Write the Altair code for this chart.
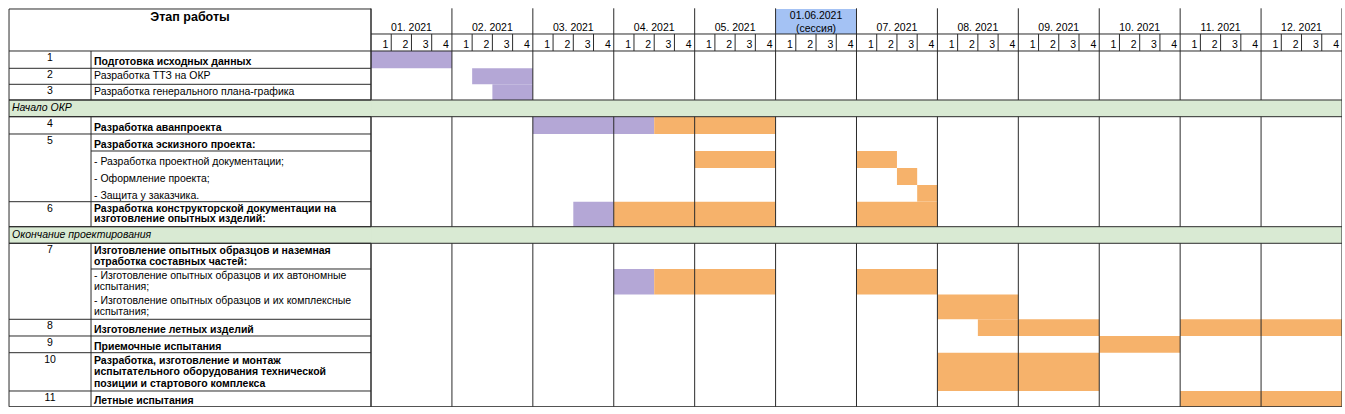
import altair as alt
import pandas as pd

# ---------------- data ----------------
MONTHS = ["01. 2021", "02. 2021", "03. 2021", "04. 2021", "05. 2021", "01.06.2021",
          "07. 2021", "08. 2021", "09. 2021", "10. 2021", "11. 2021", "12. 2021"]
SESSION_MONTH = 5
SESSION_NOTE = "(сессия)"
WEEK_LABELS = ["1", "2", "3", "4"]
HEADER_TITLE = "Этап работы"

ROW_KEYS = ["r1", "r2", "r3", "g1", "r4", "r5", "r5a", "r5b", "r5c", "r6", "g2",
            "r7", "r7a", "r7b", "r8", "r9", "r10", "r11"]
ROW_NUMBERS = ["1", "2", "3", "", "4", "5", "", "", "", "6", "", "7", "", "", "8", "9", "10", "11"]
ROW_KIND = ["main", "plain", "plain", "band", "main", "main", "sub", "sub", "sub", "main", "band",
            "main", "sub", "sub", "main", "main", "main", "main"]
ROW_TEXT = [
    ["Подготовка исходных данных"],
    ["Разработка ТТЗ на ОКР"],
    ["Разработка генерального плана-графика"],
    ["Начало ОКР"],
    ["Разработка аванпроекта"],
    ["Разработка эскизного проекта:"],
    ["- Разработка проектной документации;"],
    ["- Оформление проекта;"],
    ["- Защита у заказчика."],
    ["Разработка конструкторской документации на", "изготовление опытных изделий:"],
    ["Окончание проектирования"],
    ["Изготовление опытных образцов и наземная", "отработка составных частей:"],
    ["- Изготовление опытных образцов и их автономные", "испытания;"],
    ["- Изготовление опытных образцов и их комплексные", "испытания;"],
    ["Изготовление летных изделий"],
    ["Приемочные испытания"],
    ["Разработка, изготовление и монтаж", "испытательного оборудования технической",
     "позиции и стартового комплекса"],
    ["Летные испытания"],
]

# bars: row, start week, end week (0-based week index over the year), phase
BAR_ROW = ["r1", "r2", "r3", "r4", "r4", "r5a", "r5a", "r5b", "r5c", "r6", "r6", "r6",
           "r7a", "r7a", "r7a", "r7b", "r8", "r8", "r9", "r10", "r11"]
BAR_START = [0, 5, 6, 8, 14, 16, 24, 26, 27, 10, 12, 24, 12, 14, 24, 28, 30, 40, 36, 28, 40]
BAR_END = [4, 8, 8, 14, 20, 20, 26, 27, 28, 12, 20, 28, 14, 20, 28, 32, 36, 48, 40, 36, 48]
BAR_PHASE = ["done", "done", "done", "done", "plan", "plan", "plan", "plan", "plan", "done", "plan",
             "plan", "done", "plan", "plan", "plan", "plan", "plan", "plan", "plan", "plan"]

# ---------------- layout / style ----------------
FONT = "Liberation Sans"
PURPLE = "#b4a7d6"
ORANGE = "#f6b26b"
GREEN = "#d9ead3"
BLUE = "#a4c2f4"
LINE = "#2a2a2a"
FS = 10.5

HEADER_MONTH_H = 25
HEADER_WEEK_H = 17
HEADER_H = HEADER_MONTH_H + HEADER_WEEK_H
ROW_H = [17.3, 16, 15.7, 16.7, 17.3, 17, 17, 17, 16.7, 25, 16.6, 25.7, 25.5, 24.8, 16.7, 16.7, 38.3, 15.7]
TOP_LINE = ["full", "full", "full", "full", "full", "full", "name", "none", "none", "full", "full",
            "full", "name", "none", "full", "full", "full", "full"]
NUM_W = 82
NAME_W = 280
TABLE_W = NUM_W + NAME_W
TIMELINE_W = 971
N_WEEKS = 4 * len(MONTHS)

tops, acc = [], HEADER_H
for h in ROW_H:
    tops.append(acc)
    acc += h
TOTAL_H = acc
bottoms = [t + h for t, h in zip(tops, ROW_H)]
top_of = dict(zip(ROW_KEYS, tops))
bot_of = dict(zip(ROW_KEYS, bottoms))

# table part and timeline part share one plot area, side by side
XL = alt.Scale(domain=[0, TABLE_W], range=[0, TABLE_W], nice=False, zero=False)
XR = alt.Scale(domain=[0, N_WEEKS], range=[TABLE_W, TABLE_W + TIMELINE_W], nice=False, zero=False)
YS = alt.Scale(domain=[0, TOTAL_H], nice=False, zero=False, reverse=True)


def hrule(df, xs):
    return alt.Chart(df).mark_rule(color=LINE, strokeWidth=1).encode(
        x=alt.X("x:Q", scale=xs, axis=None), x2="x2:Q", y=alt.Y("y:Q", scale=YS, axis=None))


def vrule(df, xs):
    return alt.Chart(df).mark_rule(color=LINE, strokeWidth=1).encode(
        x=alt.X("x:Q", scale=xs, axis=None), y=alt.Y("y:Q", scale=YS, axis=None), y2="y2:Q")


def rects(df, xs, color=None):
    enc = dict(x=alt.X("x:Q", scale=xs, axis=None), x2="x2:Q",
               y=alt.Y("y:Q", scale=YS, axis=None), y2="y2:Q")
    if color is None:
        enc["color"] = alt.Color("phase:N", scale=alt.Scale(domain=["done", "plan"], range=[PURPLE, ORANGE]),
                                 legend=None)
        return alt.Chart(df).mark_rect().encode(**enc)
    return alt.Chart(df).mark_rect(color=color).encode(**enc)


def texts(df, xs, **kw):
    base = dict(font=FONT, fontSize=FS, color="black", baseline="middle")
    base.update(kw)
    return alt.Chart(df).mark_text(**base).encode(
        x=alt.X("x:Q", scale=xs, axis=None), y=alt.Y("y:Q", scale=YS, axis=None), text="text:N")


# ---------- text records for the table ----------
bold_rows, reg_rows, band_rows, num_rows = [], [], [], []
band_rect_l, band_rect_r = [], []
NAME_X = NUM_W + 3.0
for key, kind, lines, t, b, h, num in zip(ROW_KEYS, ROW_KIND, ROW_TEXT, tops, bottoms, ROW_H, ROW_NUMBERS):
    n = len(lines)
    if kind == "band":
        band_rows.append(dict(x=3.0, y=(t + b) / 2, text=lines[0]))
        band_rect_l.append(dict(x=0, x2=TABLE_W, y=t, y2=b))
        band_rect_r.append(dict(x=0, x2=N_WEEKS, y=t, y2=b))
        continue
    if kind == "plain":
        last, lh = (t + b) / 2, 12
    elif kind == "main":
        last = b - (6.0 if n == 1 else 7.3)
        lh = min(12, (h - 4.5) / n)
    else:
        last = b - (6.0 if n == 1 else 7.1)
        lh = 11.6
    for k, s in enumerate(lines):
        rec = dict(x=NAME_X, y=last - (n - 1 - k) * lh, text=s)
        (bold_rows if kind == "main" else reg_rows).append(rec)
    if num:
        num_rows.append(dict(x=NUM_W / 2, y=t + 7.0, text=num))

# ---------- table lines ----------
hl_left = [dict(x=0, x2=TABLE_W, y=0), dict(x=0, x2=TABLE_W, y=TOTAL_H)]
for kind_line, t in zip(TOP_LINE, tops):
    if kind_line == "full":
        hl_left.append(dict(x=0, x2=TABLE_W, y=t))
    elif kind_line == "name":
        hl_left.append(dict(x=NUM_W, x2=TABLE_W, y=t))
band_edges = []
for kind, t, b in zip(ROW_KIND, tops, bottoms):
    if kind == "band":
        band_edges += [t, b]
hl_band_left = [dict(x=0, x2=TABLE_W, y=y) for y in band_edges]
vl_left = [dict(x=NUM_W, y=HEADER_H, y2=TOTAL_H), dict(x=TABLE_W, y=0, y2=TOTAL_H)]
vl_left_outer = [dict(x=0, y=0, y2=TOTAL_H)]

# ---------- timeline lines ----------
vl_right = [dict(x=m * 4, y=-0.7, y2=TOTAL_H) for m in range(len(MONTHS))]
vl_right_outer = [dict(x=N_WEEKS, y=-0.7, y2=TOTAL_H)]
week_ticks = [dict(x=w, y=HEADER_MONTH_H, y2=HEADER_H) for w in range(N_WEEKS) if w % 4 != 0]
hl_right = [dict(x=0, x2=N_WEEKS, y=HEADER_MONTH_H), dict(x=0, x2=N_WEEKS, y=HEADER_H),
            dict(x=0, x2=N_WEEKS, y=TOTAL_H)]
hl_band_right = [dict(x=0, x2=N_WEEKS, y=y) for y in band_edges]

bars = pd.DataFrame(dict(
    x=BAR_START, x2=BAR_END,
    y=[top_of[r] for r in BAR_ROW], y2=[bot_of[r] for r in BAR_ROW],
    phase=BAR_PHASE))

session_rect = pd.DataFrame([dict(x=SESSION_MONTH * 4, x2=SESSION_MONTH * 4 + 4, y=0, y2=HEADER_MONTH_H)])
month_text = pd.DataFrame([dict(x=m * 4 + 2, y=19, text=lab) for m, lab in enumerate(MONTHS)
                           if m != SESSION_MONTH])
session_text = pd.DataFrame([dict(x=SESSION_MONTH * 4 + 2, y=7.2, text=MONTHS[SESSION_MONTH]),
                             dict(x=SESSION_MONTH * 4 + 2, y=20, text=SESSION_NOTE)])
week_text = pd.DataFrame([dict(x=m * 4 + w + 1, y=36, text=WEEK_LABELS[w])
                          for m in range(len(MONTHS)) for w in range(4)])

D = pd.DataFrame

layers = [
    # timeline part
    rects(session_rect, XR, BLUE),
    rects(bars, XR),
    vrule(D(vl_right), XR),
    vrule(D(week_ticks), XR),
    # table part
    vrule(D(vl_left), XL),
    # bands
    rects(D(band_rect_l), XL, GREEN),
    rects(D(band_rect_r), XR, GREEN),
    vrule(D(vl_left_outer), XL),
    vrule(D(vl_right_outer), XR),
    hrule(D(hl_left), XL),
    hrule(D(hl_band_left), XL),
    hrule(D(hl_right), XR),
    hrule(D(hl_band_right), XR),
    # texts
    texts(D([dict(x=TABLE_W / 2, y=8.3, text=HEADER_TITLE)]), XL, align="center", fontSize=12.5,
          fontWeight="bold"),
    texts(D(num_rows), XL, align="center"),
    texts(D(bold_rows), XL, align="left", fontWeight="bold"),
    texts(D(reg_rows), XL, align="left"),
    texts(D(band_rows), XL, align="left", fontStyle="italic"),
    texts(month_text, XR, align="center"),
    texts(session_text, XR, align="center"),
    texts(week_text, XR, align="right", dx=-3),
]

chart = alt.layer(*layers).resolve_scale(x="independent").properties(
    width=TABLE_W + TIMELINE_W,
    height=TOTAL_H,
    padding={"left": 9, "top": 9, "right": 0, "bottom": 0},
    background="white",
    autosize=alt.AutoSizeParams(type="none"),
).configure_view(stroke=None)

chart.save("out.html", embed_options={"renderer": "svg", "actions": False})
